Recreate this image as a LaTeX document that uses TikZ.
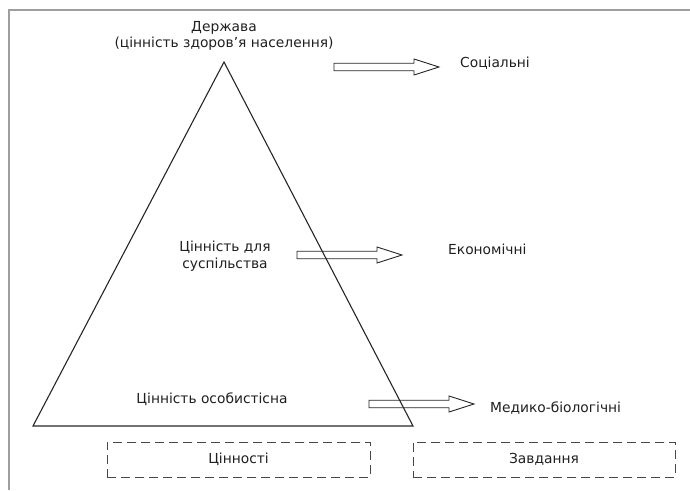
\documentclass[tikz,border=0pt]{standalone}
\usepackage{fontspec}
\setmainfont{DejaVu Sans}
\begin{document}
\begin{tikzpicture}[x=1pt,y=-1pt,
  lbl/.style={font=\fontsize{13.8}{16.5}\selectfont, inner sep=0pt, text=black!88},
  tri/.style={draw=black!85, line width=1.1pt, line join=miter},
  barrow/.style={draw=black!85, line width=0.9pt, line join=miter},
  dbox/.style={lbl, draw=black!72, line width=1pt, dash pattern=on 9pt off 5pt, minimum height=35pt},
  frameline/.style={draw=black!38, line width=2.6pt},
  blockarrow/.pic={\draw[barrow] (0,-3.75) -- (80,-3.75) -- (80,-8) -- (105,0) -- (80,8) -- (80,3.75) -- (0,3.75) -- cycle;}]
\useasboundingbox (0,0) rectangle (690,490);
\draw[frameline] (9,490) -- (9,10) -- (690,10);

\coordinate (apex) at (224,62);
\coordinate (bl) at (33,426);
\coordinate (br) at (413,426);
\draw[tri] (apex) -- (bl) -- (br) -- cycle;

\pic at (334,67) {blockarrow};
\pic at (297,255) {blockarrow};
\pic at (369,404) {blockarrow};

\node[lbl, anchor=south, align=center] (state) at (224,51) {Держава\\(цінність здоров’я населення)};
\node[lbl, anchor=base west] (soc) at (460,67) {Соціальні};
\node[lbl, anchor=base west] (eco) at (448,254) {Економічні};
\node[lbl, anchor=base west] (med) at (490,412) {Медико-біологічні};
\node[lbl, align=center] (society) at (225,256) {Цінність для\\суспільства};
\node[lbl, anchor=base] (personal) at (212,403) {Цінність особистісна};
\node[dbox, minimum width=263pt] (values) at (238.5,459.5) {Цінності};
\node[dbox, minimum width=262pt] (tasks) at (544,459.5) {Завдання};
\end{tikzpicture}
\end{document}
